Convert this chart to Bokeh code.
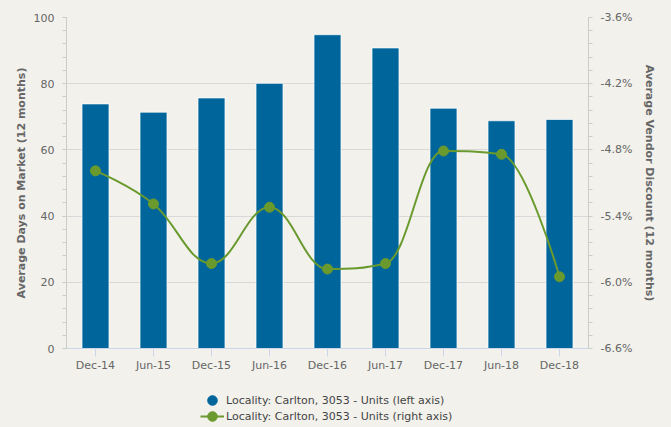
from bokeh.plotting import figure
from bokeh.layouts import column
from bokeh.models import (Range1d, LinearAxis, SingleIntervalTicker, FixedTicker,
                          PrintfTickFormatter, ColumnDataSource, Legend, LegendItem)
from bokeh.embed import file_html
from bokeh.resources import INLINE

categories = ["Dec-14", "Jun-15", "Dec-15", "Jun-16", "Dec-16", "Jun-17", "Dec-17", "Jun-18", "Dec-18"]
days_on_market = [73.9, 71.4, 75.7, 80.1, 94.8, 90.8, 72.6, 68.8, 69.2]
vendor_discount = [-4.99, -5.29, -5.83, -5.32, -5.88, -5.83, -4.81, -4.84, -5.95]
right_ticks = [-6.6, -6.0, -5.4, -4.8, -4.2, -3.6]
series_labels = ["Locality: Carlton, 3053 - Units (left axis)",
                 "Locality: Carlton, 3053 - Units (right axis)"]

BG = "#f2f1ec"
BLUE = "#00659b"
GREEN = "#6a9a2e"
FONT = "DejaVu Sans"

xs = list(range(len(categories)))

p = figure(width=661, height=374, output_backend="svg", toolbar_location=None,
           x_range=Range1d(-0.5, len(categories) - 0.5), y_range=Range1d(0, 100),
           min_border_left=66, min_border_right=73, min_border_top=17, min_border_bottom=25,
           background_fill_color=BG, border_fill_color=BG)
p.outline_line_color = None
p.extra_y_ranges = {"right": Range1d(right_ticks[0], right_ticks[-1])}

# axes
p.xaxis.ticker = FixedTicker(ticks=xs)
p.xaxis.major_label_overrides = {i: c for i, c in enumerate(categories)}
p.xaxis.axis_line_color = "#ccd6eb"
p.xaxis.major_tick_line_color = "#ccd6eb"
p.xaxis.major_tick_out = 8
p.xaxis.major_tick_in = 0
p.xaxis.minor_tick_line_color = None
p.xaxis.major_label_standoff = 2
p.xaxis.major_label_text_font = FONT
p.xaxis.major_label_text_font_size = "11px"
p.xaxis.major_label_text_color = "#666666"

yl = p.yaxis[0]
yl.ticker = SingleIntervalTicker(interval=20, num_minor_ticks=5)
yl.axis_label = "Average Days on Market (12 months)"

minor_r = []
for a, b in zip(right_ticks[:-1], right_ticks[1:]):
    step = (b - a) / 5
    minor_r += [round(a + step * k, 3) for k in range(1, 5)]
yr = LinearAxis(y_range_name="right", ticker=FixedTicker(ticks=right_ticks, minor_ticks=minor_r),
                formatter=PrintfTickFormatter(format="%.1f%%"),
                axis_label="Average Vendor Discount (12 months)")
p.add_layout(yr, "right")

for ax in [yl, yr]:
    ax.axis_line_color = "#cccccc"
    ax.major_tick_line_color = "#cccccc"
    ax.minor_tick_line_color = "#cccccc"
    ax.major_tick_out = 4
    ax.major_tick_in = 0
    ax.minor_tick_out = 4
    ax.minor_tick_in = 0
    ax.major_label_standoff = 8
    ax.major_label_text_font = FONT
    ax.major_label_text_font_size = "11px"
    ax.major_label_text_color = "#666666"
    ax.axis_label_text_font = FONT
    ax.axis_label_text_font_size = "11px"
    ax.axis_label_text_font_style = "bold"
    ax.axis_label_text_color = "#666666"
    ax.axis_label_standoff = 8
yl.axis_label_standoff = 3

p.xgrid.grid_line_color = None
p.ygrid.grid_line_color = "#d8d8d8"
p.ygrid.grid_line_width = 1

# bars
src = ColumnDataSource(dict(x=xs, days=days_on_market, disc=vendor_discount))
p.vbar(x="x", top="days", bottom=0, width=0.465, source=src, fill_color=BLUE,
       line_color="#ffffff", line_alpha=0.7, line_width=1)

# spline (Highcharts-style smoothing) through the discount points
smoothing = 1.5
denom = smoothing + 1
n = len(xs)
rc = [None] * n
lc = [None] * n
for i in range(1, n - 1):
    px, py = xs[i], vendor_discount[i]
    lx, ly = xs[i - 1], vendor_discount[i - 1]
    nx, ny = xs[i + 1], vendor_discount[i + 1]
    lcx = (smoothing * px + lx) / denom
    lcy = (smoothing * py + ly) / denom
    rcx = (smoothing * px + nx) / denom
    rcy = (smoothing * py + ny) / denom
    corr = ((rcy - lcy) * (rcx - px)) / (rcx - lcx) + py - rcy
    lcy += corr
    rcy += corr
    if lcy > ly and lcy > py:
        lcy = max(ly, py); rcy = 2 * py - lcy
    elif lcy < ly and lcy < py:
        lcy = min(ly, py); rcy = 2 * py - lcy
    if rcy > ny and rcy > py:
        rcy = max(ny, py); lcy = 2 * py - rcy
    elif rcy < ny and rcy < py:
        rcy = min(ny, py); lcy = 2 * py - rcy
    lc[i] = (lcx, lcy)
    rc[i] = (rcx, rcy)

bz = dict(x0=[], y0=[], x1=[], y1=[], cx0=[], cy0=[], cx1=[], cy1=[])
for i in range(1, n):
    a = rc[i - 1] if rc[i - 1] else (xs[i - 1], vendor_discount[i - 1])
    b = lc[i] if lc[i] else (xs[i], vendor_discount[i])
    bz["x0"].append(xs[i - 1]); bz["y0"].append(vendor_discount[i - 1])
    bz["x1"].append(xs[i]); bz["y1"].append(vendor_discount[i])
    bz["cx0"].append(a[0]); bz["cy0"].append(a[1])
    bz["cx1"].append(b[0]); bz["cy1"].append(b[1])
p.bezier(x0="x0", y0="y0", x1="x1", y1="y1", cx0="cx0", cy0="cy0", cx1="cx1", cy1="cy1",
         source=ColumnDataSource(bz), y_range_name="right", line_color=GREEN, line_width=2)
p.scatter(x="x", y="disc", source=src, y_range_name="right", size=10,
          fill_color=GREEN, line_color=GREEN)

# legend in its own strip below the chart (one legend per row for tight spacing)
nan = float("nan")
lf = figure(width=661, height=50, output_backend="svg", toolbar_location=None,
            x_axis_type=None, y_axis_type=None, min_border=0,
            x_range=Range1d(0, 1), y_range=Range1d(0, 1),
            background_fill_color=BG, border_fill_color=BG)
lf.outline_line_color = None
lf.grid.grid_line_color = None
leg_bar = lf.scatter(x=[nan], y=[nan], size=10, fill_color=BLUE, line_color=BLUE)
leg_line = lf.line(x=[nan, nan], y=[nan, nan], line_color=GREEN, line_width=2)
leg_pt = lf.scatter(x=[nan], y=[nan], size=10, fill_color=GREEN, line_color=GREEN)

legend_style = dict(orientation="vertical", padding=0, margin=0, spacing=0,
                    glyph_width=24, glyph_height=24, label_height=13, label_standoff=2,
                    label_text_font=FONT, label_text_font_size="11px",
                    label_text_color="#444444", background_fill_alpha=0, border_line_alpha=0)
legend1 = Legend(items=[LegendItem(label=series_labels[0], renderers=[leg_bar])],
                 location=(134, 12), **legend_style)
legend2 = Legend(items=[LegendItem(label=series_labels[1], renderers=[leg_line, leg_pt])],
                 location=(134, -4), **legend_style)
lf.add_layout(legend1, "center")
lf.add_layout(legend2, "center")

layout = column(p, lf, spacing=0, styles={"background-color": BG})
html = file_html(layout, INLINE)
html = html.replace("<head>", "<head><style>html,body{background:%s;}</style>" % BG, 1)
open("out.html", "w").write(html)
